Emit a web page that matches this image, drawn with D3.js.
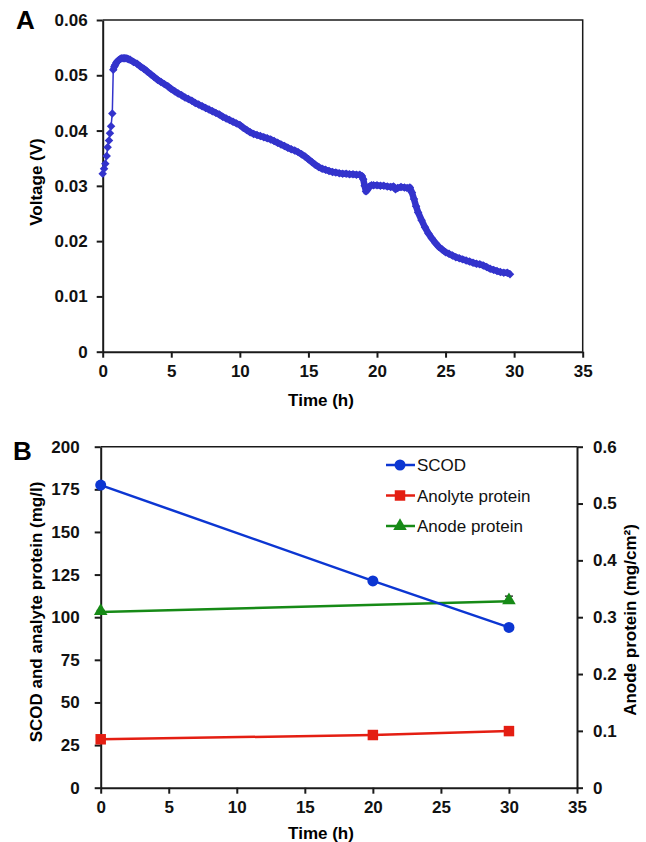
<!DOCTYPE html>
<html>
<head>
<meta charset="utf-8">
<script src="https://cdn.jsdelivr.net/npm/d3@7"></script>
<style>
  body { margin: 0; background: #fff; }
  svg text { font-family: "Liberation Sans", Arial, sans-serif; }
</style>
</head>
<body>
<div id="chart"></div>
<script>
// Panel A data: cell voltage over time
var timeA = [0.00, 0.10, 0.19, 0.29, 0.36, 0.46, 0.53, 0.61, 0.70, 0.77, 0.85, 0.92,
  1.00, 1.10, 1.20, 1.30, 1.40, 1.50, 1.60, 1.70, 1.80, 1.90, 2.00, 2.25, 2.50, 2.75,
  3.00, 3.25, 3.50, 3.75, 4.00, 4.25, 4.50, 4.75, 5.00, 5.25, 5.50, 5.75, 6.00, 6.25,
  6.50, 6.75, 7.00, 7.25, 7.50, 7.75, 8.00, 8.25, 8.50, 8.75, 9.00, 9.25, 9.50, 9.75,
  10.00, 10.25, 10.50, 10.75, 11.00, 11.25, 11.50, 11.75, 12.00, 12.25, 12.50, 12.75,
  13.00, 13.25, 13.50, 13.75, 14.00, 14.25, 14.50, 14.75, 15.00, 15.25, 15.50, 15.75,
  16.00, 16.25, 16.50, 16.75, 17.00, 17.25, 17.50, 17.75, 18.00, 18.25, 18.50, 18.75,
  18.90, 19.00, 19.10, 19.20, 19.30, 19.45, 19.60, 19.75, 20.00, 20.25, 20.50, 20.75,
  21.00, 21.20, 21.35, 21.50, 21.75, 22.00, 22.20, 22.40, 22.55, 22.70, 22.85, 23.00,
  23.25, 23.50, 23.75, 24.00, 24.25, 24.50, 24.75, 25.00, 25.25, 25.50, 25.75, 26.00,
  26.25, 26.50, 26.75, 27.00, 27.25, 27.50, 27.75, 28.00, 28.25, 28.50, 28.75, 29.00,
  29.25, 29.50, 29.70];
var voltageA = [0.0322, 0.0331, 0.0340, 0.0354, 0.0370, 0.0382, 0.0395, 0.0408, 0.0431, 0.0510, 0.0516, 0.0519,
  0.0523, 0.0526, 0.0528, 0.0530, 0.0531, 0.0531, 0.0531, 0.0531, 0.0530, 0.0529, 0.0528, 0.0524, 0.0521, 0.0516,
  0.0512, 0.0507, 0.0502, 0.0497, 0.0492, 0.0488, 0.0484, 0.0480, 0.0475, 0.0471, 0.0467, 0.0464, 0.0460, 0.0457,
  0.0454, 0.0450, 0.0447, 0.0444, 0.0441, 0.0438, 0.0435, 0.0432, 0.0429, 0.0425, 0.0422, 0.0419, 0.0416, 0.0413,
  0.0410, 0.0405, 0.0401, 0.0397, 0.0394, 0.0392, 0.0390, 0.0388, 0.0386, 0.0384, 0.0381, 0.0378,
  0.0375, 0.0372, 0.0369, 0.0366, 0.0364, 0.0361, 0.0357, 0.0353, 0.0348, 0.0343, 0.0338, 0.0334,
  0.0331, 0.0329, 0.0327, 0.0325, 0.0324, 0.0323, 0.0322, 0.0322, 0.0321, 0.0321, 0.0320, 0.0320,
  0.0318, 0.0312, 0.0300, 0.0290, 0.0293, 0.0299, 0.0301, 0.0301, 0.0301, 0.0300, 0.0300, 0.0299,
  0.0298, 0.0299, 0.0294, 0.0296, 0.0298, 0.0297, 0.0296, 0.0297, 0.0288, 0.0276, 0.0263, 0.0252,
  0.0238, 0.0225, 0.0214, 0.0205, 0.0197, 0.0190, 0.0185, 0.0180, 0.0177, 0.0174, 0.0171, 0.0169,
  0.0167, 0.0165, 0.0163, 0.0161, 0.0159, 0.0158, 0.0156, 0.0153, 0.0150, 0.0148, 0.0146, 0.0144,
  0.0143, 0.0143, 0.0140];

// Panel B data
var timeB = [0, 20, 30];
var scod = [177.5, 121.3, 94.0];
var anolyteProtein = [28.4, 30.9, 33.2];
var anodeTime = [0, 30];
var anodeProtein = [0.309, 0.328];
var anodeErr = [0.003, 0.009];

// ticks
var timeTicks = [0, 5, 10, 15, 20, 25, 30, 35];
var voltTicks = [0, 0.01, 0.02, 0.03, 0.04, 0.05, 0.06];
var leftTicksB = [0, 25, 50, 75, 100, 125, 150, 175, 200];
var rightTicksB = [0, 0.1, 0.2, 0.3, 0.4, 0.5, 0.6];

var svg = d3.select("#chart").append("svg")
    .attr("width", 646)
    .attr("height", 842);

// ---------- Panel A ----------
var xA = d3.scaleLinear().domain([0, 35]).range([102.7, 582.7]);
var yA = d3.scaleLinear().domain([0, 0.06]).range([351.7, 20]);

function styleAxis(g) {
    g.select(".domain").attr("stroke", "#1a1a1a").attr("stroke-width", 2);
    g.selectAll(".tick line").attr("stroke", "#1a1a1a").attr("stroke-width", 2);
    g.selectAll(".tick text")
        .attr("fill", "#111")
        .style("font-size", "17px")
        .style("font-weight", "bold");
}

// frame (top, right)
svg.append("path")
    .attr("d", "M" + xA(0) + "," + yA(0.06) + "H" + xA(35) + "V" + yA(0))
    .attr("fill", "none")
    .attr("stroke", "#1a1a1a")
    .attr("stroke-width", 1.5);

svg.append("g")
    .attr("transform", "translate(0," + yA(0) + ")")
    .call(d3.axisBottom(xA).tickValues(timeTicks).tickSize(6).tickSizeOuter(0).tickPadding(7))
    .call(styleAxis);

svg.append("g")
    .attr("transform", "translate(" + xA(0) + ",0)")
    .call(d3.axisLeft(yA).tickValues(voltTicks).tickSize(6).tickSizeOuter(0).tickPadding(9)
        .tickFormat(function(d){ return d === 0 ? "0" : d3.format(".2f")(d); }))
    .call(styleAxis);

var lineA = d3.line()
    .x(function(d){ return xA(d[0]); })
    .y(function(d){ return yA(d[1]); });

var ptsA = timeA.map(function(t, i){ return [t, voltageA[i]]; });

// thin connector for the sparse start, thick band for the dense logging
svg.append("path")
    .datum(ptsA.slice(0, 10))
    .attr("d", lineA)
    .attr("fill", "none")
    .attr("stroke", "#3333cc")
    .attr("stroke-width", 1.5);
svg.append("path")
    .datum(ptsA.slice(9))
    .attr("d", lineA)
    .attr("fill", "none")
    .attr("stroke", "#3333cc")
    .attr("stroke-width", 6.5)
    .attr("stroke-linejoin", "round");

var diamond = d3.symbol().type(d3.symbolSquare).size(36);
svg.selectAll(".dA")
    .data(ptsA)
    .enter()
    .append("path")
    .attr("class", "dA")
    .attr("d", diamond)
    .attr("transform", function(d){
        return "translate(" + xA(d[0]) + "," + yA(d[1]) + ") rotate(45)";
    })
    .attr("fill", "#3333cc");

svg.append("text")
    .attr("x", 321).attr("y", 406)
    .attr("text-anchor", "middle")
    .style("font-size", "17px").style("font-weight", "bold")
    .text("Time (h)");

svg.append("text")
    .attr("transform", "translate(42,182) rotate(-90)")
    .attr("text-anchor", "middle")
    .style("font-size", "17px").style("font-weight", "bold")
    .text("Voltage (V)");

svg.append("text")
    .attr("x", 16).attr("y", 29)
    .style("font-size", "26px").style("font-weight", "bold")
    .text("A");

// ---------- Panel B ----------
var xB = d3.scaleLinear().domain([0, 35]).range([100.7, 577]);
var yL = d3.scaleLinear().domain([0, 200]).range([787.7, 446.7]);
var yR = d3.scaleLinear().domain([0, 0.6]).range([787.7, 446.7]);

svg.append("line")
    .attr("x1", xB(0)).attr("x2", xB(35))
    .attr("y1", yL(200)).attr("y2", yL(200))
    .attr("stroke", "#1a1a1a").attr("stroke-width", 1.5);

svg.append("g")
    .attr("transform", "translate(0," + yL(0) + ")")
    .call(d3.axisBottom(xB).tickValues(timeTicks).tickSize(6).tickSizeOuter(0).tickPadding(7))
    .call(styleAxis);

svg.append("g")
    .attr("transform", "translate(" + xB(0) + ",0)")
    .call(d3.axisLeft(yL).tickValues(leftTicksB).tickSize(6).tickSizeOuter(0).tickPadding(15))
    .call(styleAxis);

svg.append("g")
    .attr("transform", "translate(" + xB(35) + ",0)")
    .call(d3.axisRight(yR).tickValues(rightTicksB).tickSize(6).tickSizeOuter(0).tickPadding(10)
        .tickFormat(function(d){ return d === 0 ? "0" : d3.format(".1f")(d); }))
    .call(styleAxis);

var blue = "#0c36d2", red = "#e41e12", green = "#168a16";

var lineL = d3.line()
    .x(function(d){ return xB(d[0]); })
    .y(function(d){ return yL(d[1]); });
var lineR = d3.line()
    .x(function(d){ return xB(d[0]); })
    .y(function(d){ return yR(d[1]); });

var scodPts = timeB.map(function(t, i){ return [t, scod[i]]; });
var anoPts = timeB.map(function(t, i){ return [t, anolyteProtein[i]]; });
var anodePts = anodeTime.map(function(t, i){ return [t, anodeProtein[i], anodeErr[i]]; });

// anode error bars
svg.selectAll(".err")
    .data(anodePts)
    .enter()
    .append("path")
    .attr("class", "err")
    .attr("d", function(d){
        var x = xB(d[0]), y1 = yR(d[1] + d[2]), y0 = yR(d[1]);
        return "M" + x + "," + y0 + "V" + y1 + "M" + (x - 4) + "," + y1 + "H" + (x + 4);
    })
    .attr("stroke", "#111").attr("stroke-width", 1.2).attr("fill", "none");

svg.append("path").datum(anodePts).attr("d", lineR)
    .attr("fill", "none").attr("stroke", green).attr("stroke-width", 2.5);
svg.append("path").datum(anoPts).attr("d", lineL)
    .attr("fill", "none").attr("stroke", red).attr("stroke-width", 2.5);
svg.append("path").datum(scodPts).attr("d", lineL)
    .attr("fill", "none").attr("stroke", blue).attr("stroke-width", 2.5);

var circ = d3.symbol().type(d3.symbolCircle).size(95);
var sq = d3.symbol().type(d3.symbolSquare).size(110);
var tri = d3.symbol().type(d3.symbolTriangle).size(80);

svg.selectAll(".mS").data(scodPts).enter().append("path")
    .attr("d", circ)
    .attr("transform", function(d){ return "translate(" + xB(d[0]) + "," + yL(d[1]) + ")"; })
    .attr("fill", blue);
svg.selectAll(".mA").data(anoPts).enter().append("path")
    .attr("d", sq)
    .attr("transform", function(d){ return "translate(" + xB(d[0]) + "," + yL(d[1]) + ")"; })
    .attr("fill", red);
svg.selectAll(".mN").data(anodePts).enter().append("path")
    .attr("d", tri)
    .attr("transform", function(d){ return "translate(" + xB(d[0]) + "," + (yR(d[1]) - 1) + ")"; })
    .attr("fill", green);

// legend
var legendItems = [
    { name: "SCOD", color: blue, sym: circ },
    { name: "Anolyte protein", color: red, sym: sq },
    { name: "Anode protein", color: green, sym: tri }
];
var leg = svg.selectAll(".leg").data(legendItems).enter().append("g")
    .attr("transform", function(d, i){ return "translate(400," + (465 + i * 30.5) + ")"; });
leg.append("line")
    .attr("x1", -14).attr("x2", 15)
    .attr("stroke", function(d){ return d.color; }).attr("stroke-width", 2.5);
leg.append("path")
    .attr("d", function(d){ return d.sym(); })
    .attr("fill", function(d){ return d.color; });
leg.append("text")
    .attr("x", 17).attr("y", 6)
    .style("font-size", "17px")
    .attr("fill", "#111")
    .text(function(d){ return d.name; });

svg.append("text")
    .attr("x", 321).attr("y", 839)
    .attr("text-anchor", "middle")
    .style("font-size", "17px").style("font-weight", "bold")
    .text("Time (h)");

svg.append("text")
    .attr("transform", "translate(42,612) rotate(-90)")
    .attr("text-anchor", "middle")
    .style("font-size", "17px").style("font-weight", "bold")
    .text("SCOD and analyte protein (mg/l)");

svg.append("text")
    .attr("transform", "translate(636,620) rotate(-90)")
    .attr("text-anchor", "middle")
    .style("font-size", "17px").style("font-weight", "bold")
    .text("Anode protein (mg/cm²)");

svg.append("text")
    .attr("x", 13).attr("y", 460)
    .style("font-size", "26px").style("font-weight", "bold")
    .text("B");
</script>
</body>
</html>
